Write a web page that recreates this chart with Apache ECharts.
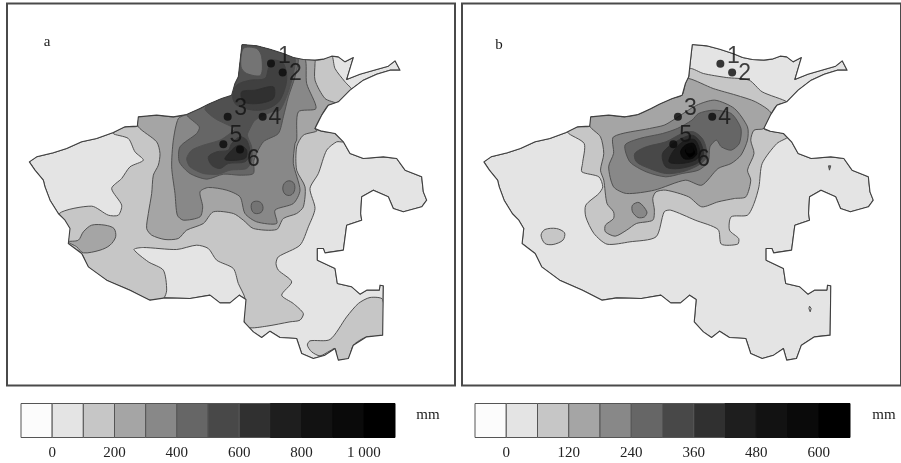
<!DOCTYPE html>
<html><head><meta charset="utf-8">
<style>html,body{margin:0;padding:0;background:#fff}#c{width:901px;height:463px}</style>
<script src="https://cdn.jsdelivr.net/npm/echarts@6/dist/echarts.min.js"></script>
</head><body><div id="c"></div>
<script>
// ---- Legend
const levelColors = ['#fcfcfc','#e4e4e4','#c6c6c6','#a5a5a5','#888888','#666666','#484848','#303030','#1e1e1e','#121212','#0a0a0a','#000000'];
const binEdgesA = [-100,0,100,200,300,400,500,600,700,800,900,1000,1100];
const binEdgesB = [-60,0,60,120,180,240,300,360,420,480,540,600,660];
const tickLabelsA = {0:'0',200:'200',400:'400',600:'600',800:'800',1000:'1 000'};
const tickLabelsB = {0:'0',120:'120',240:'240',360:'360',480:'480',600:'600'};
// ---- Province outline (map units)
const outline = [[726,133],[770,137],[810,147],[850,160],[880,172],[910,178],[945,180],[970,177],[995,168],[1015,170],[1035,185],[1060,172],[1053,195],[1040,238],[1080,222],[1130,208],[1165,198],[1185,182],[1200,210],[1170,210],[1130,222],[1090,240],[1050,270],[1015,305],[985,315],[965,345],[945,385],[965,393],[1005,400],[1030,425],[1050,460],[1090,475],[1150,470],[1190,475],[1215,510],[1265,530],[1270,575],[1280,600],[1265,620],[1210,635],[1180,625],[1165,590],[1120,570],[1085,590],[1082,640],[1085,660],[1040,675],[1030,750],[975,758],[970,745],[952,745],[952,780],[1005,805],[1012,850],[1055,860],[1080,882],[1100,870],[1138,870],[1140,855],[1150,857],[1148,1005],[1100,1010],[1060,1035],[1045,1075],[1015,1080],[1005,1045],[975,1065],[940,1075],[905,1060],[890,1015],[840,1012],[810,993],[785,1012],[760,995],[732,965],[738,898],[718,885],[690,908],[660,908],[630,885],[570,895],[495,893],[450,900],[390,870],[320,840],[265,800],[245,760],[205,730],[210,685],[195,660],[175,640],[150,600],[135,560],[130,540],[105,510],[88,485],[110,470],[160,458],[200,445],[245,425],[290,415],[340,397],[375,380],[412,378],[415,350],[470,345],[520,350],[560,343],[600,325],[625,312],[665,295],[695,285],[705,250],[715,230],[720,185]];
// ---- Panel a contours
const a2Main = [[178,640],[205,690],[205,730],[245,760],[265,800],[320,840],[390,870],[450,900],[490,895],[500,870],[490,810],[445,785],[402,748],[430,742],[530,748],[590,735],[625,745],[650,780],[700,805],[715,850],[735,895],[730,955],[745,982],[800,978],[870,965],[900,960],[910,940],[880,910],[845,885],[875,845],[835,810],[828,790],[835,770],[900,735],[925,680],[945,625],[930,565],[955,520],[980,450],[1010,425],[1030,425],[1005,400],[965,393],[945,385],[965,345],[985,315],[1015,305],[1055,270],[1035,245],[1005,205],[995,165],[970,177],[945,180],[910,178],[880,172],[850,160],[810,147],[770,137],[726,133],[720,185],[715,230],[705,250],[695,285],[665,295],[625,312],[600,325],[560,343],[520,350],[470,345],[415,350],[412,378],[375,380],[340,400],[385,415],[405,455],[430,480],[390,500],[365,535],[335,565],[365,615],[355,645],[325,645],[275,618]];
const a2South = [[1148,898],[1110,892],[1075,910],[1040,950],[990,1018],[930,1022],[922,1035],[935,1055],[960,1067],[990,1052],[1005,1045],[1015,1080],[1045,1075],[1060,1035],[1100,1010],[1148,1005]];
const a3West = [[205,725],[235,720],[250,695],[275,675],[315,675],[342,685],[347,710],[330,735],[300,750],[250,758],[230,740]];
const a3Main = [[415,350],[415,380],[470,425],[480,460],[475,495],[460,525],[455,580],[445,640],[440,685],[455,705],[495,718],[535,715],[560,690],[610,670],[640,635],[700,640],[730,660],[760,685],[830,688],[850,655],[890,640],[910,620],[915,560],[890,510],[890,440],[910,405],[950,393],[945,385],[965,345],[985,315],[1010,310],[975,295],[945,240],[945,190],[945,180],[915,178],[880,172],[850,160],[810,147],[770,137],[726,133],[720,185],[715,230],[705,250],[695,285],[665,295],[625,312],[600,325],[560,343],[520,350],[470,345]];
const a4Main = [[535,355],[520,420],[515,500],[525,580],[532,645],[550,660],[600,650],[608,620],[600,575],[625,562],[680,570],[720,590],[735,640],[770,665],[830,670],[825,630],[880,610],[900,570],[880,490],[885,430],[890,420],[895,335],[948,325],[920,250],[915,175],[880,172],[850,160],[810,147],[770,137],[726,133],[720,185],[715,230],[705,250],[695,285],[665,295],[625,312],[600,325],[560,343]];
const a5BlobS = [[755,610],[770,603],[785,610],[788,630],[775,640],[758,635]];
const a5BlobE = [[850,555],[865,542],[882,550],[882,575],[868,586],[852,578]];
const a5Main = [[880,172],[850,160],[810,147],[770,137],[726,133],[720,185],[715,230],[705,250],[695,285],[665,295],[625,312],[600,325],[560,343],[598,380],[590,400],[540,440],[538,485],[570,520],[620,537],[670,522],[720,525],[760,520],[762,480],[790,425],[835,400],[850,350],[865,290],[885,230],[895,178]];
const a6Main = [[726,133],[850,160],[885,175],[880,220],[865,275],[840,330],[815,335],[765,360],[750,385],[742,405],[755,440],[755,480],[740,505],[690,510],[655,522],[610,520],[570,500],[560,475],[575,450],[610,435],[660,420],[690,400],[705,385],[685,375],[645,355],[615,328],[625,312],[665,295],[695,285],[705,250],[715,230],[720,185]];
const a5North = [[730,145],[770,145],[785,170],[782,225],[740,220],[723,200]];
const a7Upper = [[815,180],[850,190],[860,240],[840,300],[805,325],[760,330],[710,315],[698,290],[710,255],[750,240],[795,235],[805,205]];
const a8Upper = [[725,275],[765,270],[820,260],[820,295],[775,310],[730,305]];
const a7Lower = [[625,470],[650,455],[685,450],[695,430],[720,410],[740,420],[750,460],[735,485],[685,490],[660,505],[635,495]];
const a8Lower = [[675,478],[700,445],[720,435],[740,450],[735,475]];
// ---- Panel b contours
const b2Main = [[345,397],[395,430],[390,490],[388,515],[440,530],[452,560],[440,580],[400,615],[400,650],[425,700],[465,732],[535,725],[615,710],[640,635],[660,630],[735,660],[805,688],[815,732],[865,732],[868,715],[840,690],[845,650],[895,645],[915,610],[930,560],[940,490],[985,430],[1020,410],[1005,400],[965,393],[945,385],[965,345],[985,315],[1015,305],[940,275],[900,240],[830,232],[760,220],[720,205],[715,230],[705,250],[695,285],[665,295],[625,312],[600,325],[560,343],[520,350],[470,345],[415,350],[412,378],[375,380]];
const b2Patch = [[263,705],[275,688],[310,685],[335,698],[330,720],[300,733],[275,730]];
const b2Dot = [[1085,918],[1090,925],[1087,935],[1083,925]];
const b2Tick = [[1143,497],[1150,497],[1146,510]];
const b3Main = [[415,350],[412,378],[445,410],[455,460],[445,510],[455,540],[465,610],[485,635],[485,655],[460,675],[460,695],[490,708],[525,690],[555,670],[605,660],[610,630],[605,595],[615,575],[645,570],[715,590],[755,620],[805,605],[855,595],[890,590],[905,540],[895,510],[915,460],[905,420],[915,390],[945,385],[968,340],[920,305],[860,285],[790,265],[715,235],[705,250],[695,285],[665,295],[625,312],[600,325],[560,343],[520,350],[470,345]];
const b4Blob = [[543,615],[563,607],[587,635],[580,650],[560,652],[543,635]];
const b4Main = [[485,410],[595,385],[640,375],[675,355],[740,315],[795,300],[855,325],[895,380],[895,420],[875,465],[845,490],[805,505],[755,555],[705,540],[610,570],[525,580],[485,560],[470,500],[485,460]];
const b5Main = [[520,435],[565,415],[635,400],[680,385],[725,360],[745,340],[790,330],[845,340],[875,385],[870,430],[845,450],[815,440],[800,420],[780,440],[775,485],[745,510],[695,520],[645,530],[585,515],[535,485]];
const b6Main = [[550,460],[585,440],[645,425],[695,400],[730,395],[760,420],[770,470],[745,495],[695,515],[645,520],[595,505],[555,485]];
const b7Main = [[635,460],[675,425],[725,405],[750,425],[760,465],[740,490],[685,505],[645,500]];
const b8Main = [[655,485],[670,450],[705,420],[735,420],[750,460],[735,480],[690,490]];
const b9Main = [[690,455],[705,435],[730,430],[740,460],[725,475],[700,475]];
const b10Main = [[705,450],[723,440],[733,460],[717,470]];
// ---- Stations
const stationNames = ['1','2','3','4','5','6'];
const stationsA = [[813,190],[848,217],[683,350],[788,350],[670,432],[720,448]];
const stationsB = [[812,191],[848,217],[682,350],[787,350],[668,432],[718,448]];
const stationLabelsA = [[853,168],[886,219],[722,325],[825,352],[708,406],[760,478]];
const stationLabelsB = [[852,168],[886,219],[720,325],[825,352],[706,405],[760,478]];

// [points, colour, smooth]
const layersA = [
  [outline,levelColors[1],0],[a2Main,levelColors[2],0.25],[a2South,levelColors[2],0.25],[a3West,levelColors[3],0.3],
  [a3Main,levelColors[3],0.25],[a4Main,levelColors[4],0.25],[a5BlobS,'#747474',0.4],[a5BlobE,'#747474',0.4],
  [a5Main,levelColors[5],0.25],[a6Main,'#505050',0.25],[a5North,'#747474',0.3],
  [a7Upper,'#404040',0.3],[a8Upper,'#303030',0.3],[a7Lower,'#3c3c3c',0.3],[a8Lower,'#282828',0.3]
];
const layersB = [
  [outline,levelColors[1],0],[b2Main,levelColors[2],0.25],[b2Patch,levelColors[2],0.3],[b2Dot,levelColors[2],0],[b2Tick,'#777777',0],
  [b3Main,levelColors[3],0.25],[b4Blob,levelColors[4],0.3],[b4Main,levelColors[4],0.25],[b5Main,levelColors[5],0.25],
  [b6Main,levelColors[6],0.3],[b7Main,levelColors[7],0.3],[b8Main,levelColors[8],0.3],[b9Main,levelColors[10],0.3],[b10Main,levelColors[11],0.3]
];

function mapSeries(layers, gi){
  return {type:'custom',xAxisIndex:gi,yAxisIndex:gi,silent:true,animation:false,z:2,
    data:layers.map((_,i)=>[i]),encode:{x:0,y:0},
    renderItem(p,api){
      const l=layers[api.value(0)];
      const lum=parseInt(l[1].slice(1,3),16);
      return {type:'polygon',shape:{points:l[0].map(c=>api.coord(c)),smooth:l[2]},
        clipPath:{type:'polygon',shape:{points:outline.map(c=>api.coord(c))}},
        style:{fill:l[1],stroke:lum<0x50?l[1]:'#505050',lineWidth:1}};
    }};
}
function outlineSeries(gi){
  return {type:'line',xAxisIndex:gi,yAxisIndex:gi,silent:true,animation:false,z:3,symbol:'none',
    data:outline.concat([outline[0]]),lineStyle:{color:'#404040',width:1.1,join:'round'}};
}
function dots(pts,gi){
  return {type:'scatter',xAxisIndex:gi,yAxisIndex:gi,silent:true,animation:false,z:4,symbolSize:8,
    itemStyle:{color:'#0a0a0a'},data:pts};
}
function labels(pts,gi){
  return {type:'scatter',xAxisIndex:gi,yAxisIndex:gi,silent:true,animation:false,z:5,symbolSize:1,
    itemStyle:{color:'rgba(0,0,0,0)'},
    data:pts.map((c,i)=>({value:c,name:stationNames[i]})),
    label:{show:true,position:'inside',formatter:'{b}',color:'#111',fontFamily:'Liberation Sans',fontSize:23}};
}
function legendSeries(edges,gi){
  const d=levelColors.map((c,i)=>[edges[i],edges[i+1],i]);
  return {type:'custom',xAxisIndex:gi,yAxisIndex:gi,silent:true,animation:false,z:2,data:d,encode:{x:[0,1]},
    renderItem(p,api){
      const a=api.coord([api.value(0),0]),b=api.coord([api.value(1),1]);
      const i=api.value(2);
      return {type:'rect',shape:{x:a[0],y:b[1],width:b[0]-a[0],height:a[1]-b[1]},
        style:{fill:levelColors[i],stroke:i<8?'#555':levelColors[i],lineWidth:1}};
    }};
}
const mapX=(gi)=>({gridIndex:gi,type:'value',min:21,max:1365,show:false});
const mapY=(gi)=>({gridIndex:gi,type:'value',min:10,max:1156,inverse:true,show:false});
function legX(gi,edges,step,ticks){
  return {gridIndex:gi,type:'value',min:edges[0],max:edges[edges.length-1],interval:step,
    axisLine:{show:false},axisTick:{show:false},splitLine:{show:false},
    axisLabel:{show:true,margin:8,color:'#222',fontFamily:'Liberation Serif',fontSize:15,showMinLabel:true,showMaxLabel:true,
      formatter:v=>ticks[v]!==undefined?ticks[v]:''}};
}
const legY=(gi)=>({gridIndex:gi,type:'value',min:0,max:1,show:false});
const txt=(x,y,t,fs)=>({type:'text',x,y,style:{text:t,fill:'#1a1a1a',font:fs+'px "Liberation Serif"',textAlign:'center',textVerticalAlign:'middle'},z:10});

const chart=echarts.init(document.getElementById('c'),null,{renderer:'canvas'});
chart.setOption({
  animation:false,backgroundColor:'#fff',
  grid:[
    {left:7,top:3.5,width:448,height:382,show:true,backgroundColor:'#fff',borderColor:'#4a4a4a',borderWidth:2},
    {left:462,top:3.5,width:448,height:382,show:true,backgroundColor:'#fff',borderColor:'#4a4a4a',borderWidth:2},
    {left:21,top:403.5,width:374,height:34},
    {left:475,top:403.5,width:375,height:34}
  ],
  xAxis:[mapX(0),mapX(1),legX(2,binEdgesA,100,tickLabelsA),legX(3,binEdgesB,60,tickLabelsB)],
  yAxis:[mapY(0),mapY(1),legY(2),legY(3)],
  graphic:[txt(47,42,'a',15),txt(499,45,'b',15),txt(428,415,'mm',15),txt(884,415,'mm',15)],
  series:[
    mapSeries(layersA,0),outlineSeries(0),dots(stationsA,0),labels(stationLabelsA,0),
    mapSeries(layersB,1),outlineSeries(1),dots(stationsB,1),labels(stationLabelsB,1),
    legendSeries(binEdgesA,2),legendSeries(binEdgesB,3)
  ]
});
</script></body></html>
